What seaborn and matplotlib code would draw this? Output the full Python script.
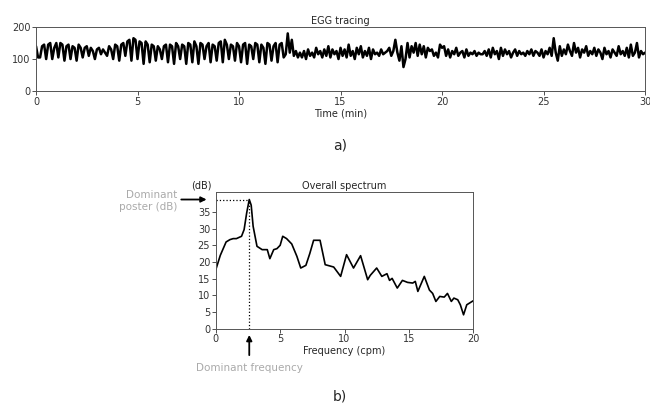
import numpy as np
import pandas as pd
import seaborn as sns
import matplotlib.pyplot as plt

# EGG trace, one value every 0.1 min
egg_values = [
    # 0 - 12.5 min, slow ~3 cpm waves
    140, 105, 105, 140, 145, 100, 145, 150, 100, 135, 150, 105,
    150, 145, 95, 140, 145, 100, 140, 135, 95, 145, 135, 105,
    135, 140, 110, 135, 125, 100, 130, 135, 115, 130, 120, 110,
    140, 130, 100, 145, 140, 95, 145, 150, 110, 155, 160, 95,
    165, 160, 100, 155, 150, 85, 155, 145, 90, 145, 140, 95,
    140, 130, 100, 140, 145, 90, 145, 140, 85, 150, 140, 100,
    145, 140, 85, 150, 145, 90, 155, 140, 85, 150, 145, 100,
    140, 150, 90, 145, 140, 95, 150, 155, 90, 160, 145, 100,
    145, 140, 95, 150, 140, 90, 145, 150, 85, 145, 140, 100,
    150, 145, 90, 145, 135, 85, 150, 145, 95, 140, 150, 90,
    145, 150, 105, 115, 180, 120,
    # 12.6 - 30 min, faster low-amplitude activity
    160, 110, 125, 105,
    120, 105, 125, 100, 130, 110, 120, 105, 135, 115,
    125, 105, 130, 110, 140, 105, 130, 115, 125, 100,
    135, 110, 130, 105, 145, 110, 125, 100, 135, 115,
    140, 105, 125, 110, 135, 100, 130, 115, 120, 110,
    130, 115, 120, 125, 135, 110, 125, 160, 120, 95,
    140, 75, 100, 150, 105, 140, 120, 150, 110, 145,
    115, 140, 105, 135, 125, 130, 110, 120, 105, 145,
    135, 140, 110, 130, 105, 125, 115, 135, 110, 120,
    125, 105, 130, 110, 120, 115, 125, 110, 120, 115,
    115, 125, 110, 130, 105, 135, 115, 125, 100, 135,
    110, 130, 115, 125, 105, 120, 130, 110, 125, 115,
    120, 110, 125, 115, 130, 110, 125, 120, 110, 130,
    105, 125, 115, 135, 110, 165, 120, 95, 140, 110,
    130, 115, 145, 125, 110, 150, 120, 135, 105, 130,
    120, 140, 110, 125, 115, 135, 110, 130, 120, 100,
    135, 115, 125, 105, 130, 120, 110, 140, 115, 125,
    110, 135, 105, 145, 110, 120, 150, 105, 125, 115,
    120,
]
egg_time = np.linspace(0, 30, len(egg_values))

# overall spectrum
freq = [0, 0.35, 0.8, 1.1, 1.35, 1.6, 2.0, 2.2, 2.4, 2.6, 2.75, 2.9, 3.2, 3.6,
        4.0, 4.2, 4.5, 4.75, 5.0, 5.2, 5.5, 5.9, 6.3, 6.6, 7.0, 7.3, 7.6, 8.1,
        8.5, 9.16, 9.7, 10.16, 10.7, 11.25, 11.8, 12.0, 12.5, 12.9, 13.3, 13.5,
        13.7, 14.1, 14.5, 14.9, 15.3, 15.5, 15.7, 16.2, 16.6, 16.85, 17.1, 17.4,
        17.75, 18.0, 18.3, 18.5, 18.8, 19.0, 19.25, 19.5, 20]
power = [17.7, 22, 26, 26.7, 27, 27, 27.7, 29.7, 34.7, 38.7, 37, 30.7, 24.7, 23.7,
         23.7, 21, 23.7, 24, 25, 27.7, 27, 25.4, 21.7, 18.2, 19, 22.5, 26.5, 26.5,
         19.2, 18.5, 15.7, 22.2, 18.2, 21.9, 14.7, 16, 18.2, 15.7, 16.5, 14.5,
         15.1, 12.2, 14.5, 13.9, 13.7, 14.2, 11.2, 15.7, 11.6, 10.6, 8.2, 9.7,
         9.5, 10.6, 8.2, 9.2, 8.7, 7.2, 4.2, 7.2, 8.4]
dom_freq = 2.6
dom_power = 38.7

sns.set_theme(style="ticks")
plt.rcParams['font.family'] = ['DejaVu Sans']

fig = plt.figure(figsize=(6.5, 4.03), dpi=100)
ax1 = fig.add_axes([0.0554, 0.774, 0.937, 0.159])
ax2 = fig.add_axes([0.332, 0.184, 0.396, 0.340])

egg = pd.DataFrame({'t': egg_time, 'v': egg_values})
sns.lineplot(data=egg, x='t', y='v', ax=ax1, color='black', linewidth=1.8)
ax1.set_xlim(0, 30)
ax1.set_ylim(0, 200)
ax1.set_xticks(range(0, 31, 5))
ax1.set_yticks([0, 100, 200])
ax1.set_xlabel('Time (min)', fontsize=7, labelpad=1)
ax1.set_ylabel('')
ax1.set_title('EGG tracing', fontsize=7, pad=2)

spec = pd.DataFrame({'f': freq, 'p': power})
sns.lineplot(data=spec, x='f', y='p', ax=ax2, color='black', linewidth=1.2)
ax2.set_xlim(0, 20)
ax2.set_ylim(0, 41)
ax2.set_xticks(range(0, 21, 5))
ax2.set_yticks(range(0, 36, 5))
ax2.set_xlabel('Frequency (cpm)', fontsize=7, labelpad=1)
ax2.set_ylabel('')
ax2.set_title('Overall spectrum', fontsize=7, pad=2)
ax2.plot([0, dom_freq], [dom_power, dom_power], color='black', linestyle=':', linewidth=0.9)
ax2.plot([dom_freq, dom_freq], [0, dom_power], color='black', linestyle=':', linewidth=0.9)

for ax in (ax1, ax2):
    ax.tick_params(labelsize=7, length=3, width=0.6, pad=1, colors='#333333')
    for s in ax.spines.values():
        s.set_linewidth(0.7)
        s.set_color('#555555')

# annotations around the spectrum
ax2.text(-0.3, 41.3, '(dB)', fontsize=7, ha='right', va='bottom')
ax2.annotate('', xy=(-0.5, dom_power), xytext=(-2.9, dom_power),
             arrowprops=dict(arrowstyle='-|>', color='black', lw=1.3, mutation_scale=8),
             annotation_clip=False)
ax2.text(-3.0, dom_power - 0.5, 'Dominant\nposter (dB)', fontsize=7.5, color='#aaaaaa',
         ha='right', va='center', linespacing=1.2)
ax2.annotate('', xy=(dom_freq, -1.0), xytext=(dom_freq, -8.7),
             arrowprops=dict(arrowstyle='-|>', color='black', lw=1.3, mutation_scale=8),
             annotation_clip=False)
ax2.text(dom_freq, -11.6, 'Dominant frequency', fontsize=7.5, color='#aaaaaa',
         ha='center', va='center')

fig.text(0.523, 0.64, 'a)', fontsize=10, ha='center', va='center')
fig.text(0.523, 0.017, 'b)', fontsize=10, ha='center', va='center')

fig.savefig('out.png', dpi=100)
